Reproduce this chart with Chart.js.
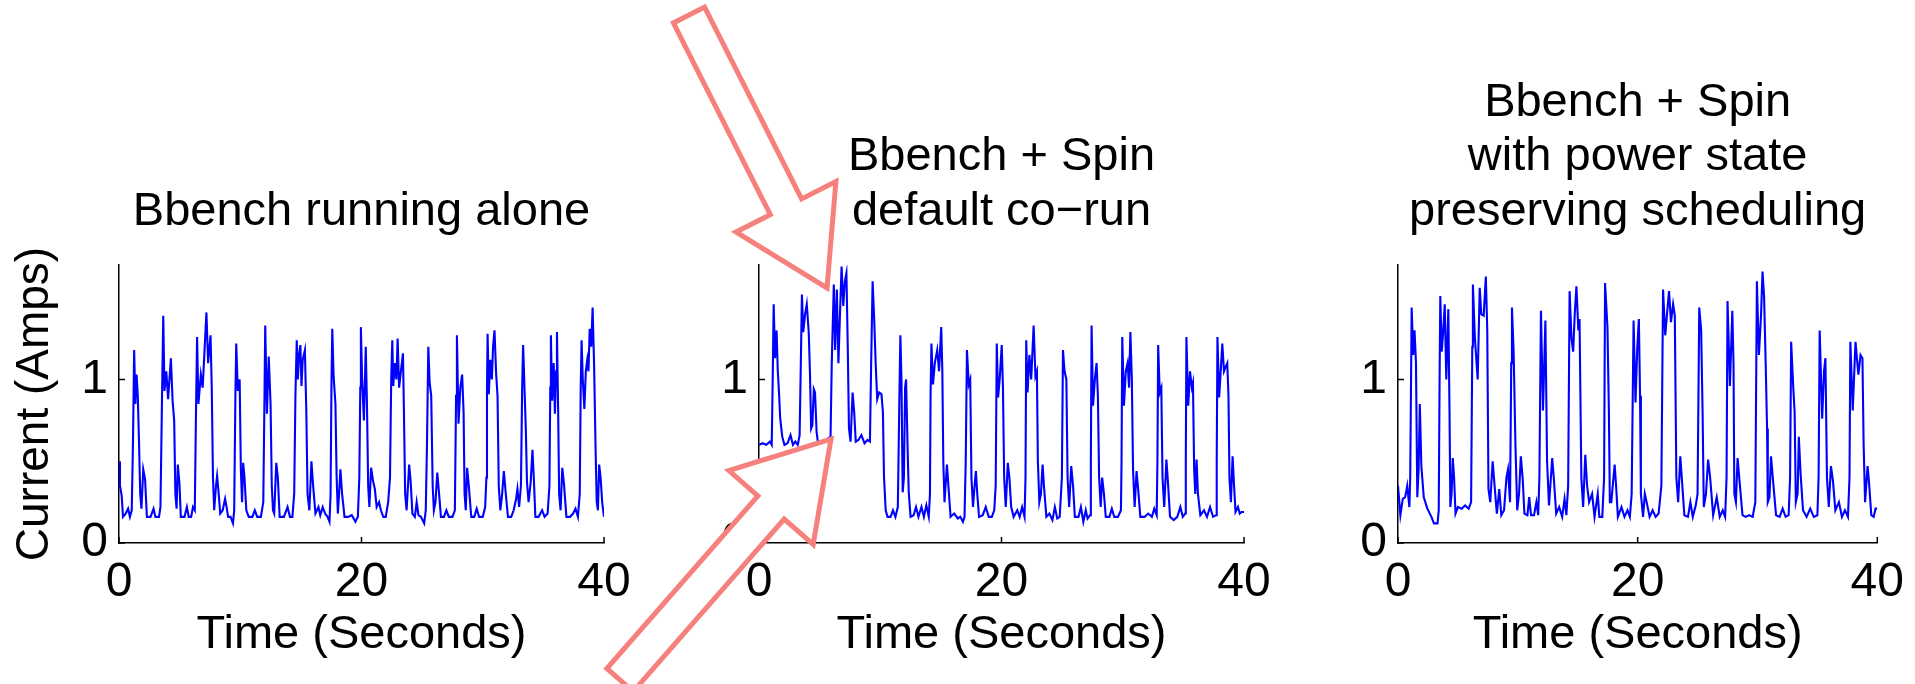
<!DOCTYPE html>
<html>
<head>
<meta charset="utf-8">
<title>Bbench current traces</title>
<script src="https://cdn.jsdelivr.net/npm/chart.js@4/dist/chart.umd.min.js"></script>
<style>
    body { margin: 0; background: #fff; width: 1915px; height: 684px; overflow: hidden; position: relative; }
    canvas { position: absolute; top: 0; }
    #arrows { position: absolute; left: 0; top: 0; }
</style>
</head>
<body>
<canvas id="canvas-1" width="660" height="684" style="left:0"></canvas>
<canvas id="canvas-2" width="660" height="684" style="left:640px"></canvas>
<canvas id="canvas-3" width="636" height="684" style="left:1279px"></canvas>
<svg id="arrows" width="1915" height="684"></svg>

<script>
// tick labels
var xTicks = [0, 20, 40];
var yTicks = [0, 1];

// Bbench running alone
var aloneTime = [0.00, 0.08, 0.22, 0.33, 0.55, 0.75, 0.90, 1.05,
    1.15, 1.25, 1.35, 1.45, 1.55, 1.65, 1.75, 1.85, 2.00, 2.15, 2.30, 2.60, 2.85, 3.00, 3.30, 3.42,
    3.55, 3.65, 3.75, 3.90, 4.05, 4.28, 4.42, 4.55, 4.65, 4.75, 4.85, 4.98, 5.10, 5.40, 5.60, 5.75, 5.95, 6.10, 6.25,
    6.35, 6.44, 6.55, 6.75, 6.90, 7.05, 7.21, 7.35, 7.55, 7.65, 7.75, 7.85, 8.00, 8.09, 8.20, 8.35, 8.55, 8.75, 8.85, 9.00, 9.20, 9.40, 9.50,
    9.60, 9.67, 9.80, 9.95, 10.05, 10.15, 10.24, 10.35, 10.50, 10.70, 11.00, 11.20, 11.40, 11.70, 11.90,
    12.00, 12.06, 12.20, 12.35, 12.50, 12.60, 12.70, 12.80, 12.97, 13.10, 13.25, 13.60, 13.90, 14.10, 14.30, 14.45,
    14.55, 14.66, 14.75, 14.85, 14.96, 15.05, 15.15, 15.33, 15.45, 15.55, 15.70, 15.87, 16.00, 16.20, 16.45, 16.60, 16.80, 17.00, 17.20, 17.36, 17.45,
    17.52, 17.59, 17.70, 17.85, 17.95, 18.05, 18.15, 18.26, 18.40, 18.60, 18.90, 19.20, 19.50, 19.70, 19.82,
    19.90, 19.95, 20.05, 20.20, 20.35, 20.45, 20.55, 20.65, 20.79, 20.95, 21.10, 21.25, 21.45, 21.60, 21.80, 22.00, 22.20, 22.35,
    22.45, 22.54, 22.62, 22.75, 22.88, 22.98, 23.10, 23.25, 23.42, 23.50, 23.60, 23.72, 23.93, 24.05, 24.20, 24.40, 24.55, 24.70, 24.90, 25.17, 25.30, 25.40,
    25.51, 25.62, 25.75, 25.87, 25.97, 26.10, 26.25, 26.40, 26.55, 26.80, 27.00, 27.20, 27.50, 27.70,
    27.80, 27.87, 28.00, 28.15, 28.30, 28.42, 28.50, 28.60, 28.71, 28.85, 29.05, 29.30, 29.50, 29.70, 30.00, 30.20, 30.30,
    30.35, 30.40, 30.50, 30.62, 30.75, 30.85, 30.97, 31.10, 31.22, 31.32, 31.45, 31.60, 31.74, 31.90, 32.08, 32.35, 32.55, 32.75, 32.86, 33.00, 33.15,
    33.25, 33.33, 33.45, 33.55, 33.65, 33.78, 33.95, 34.10, 34.22, 34.34, 34.60, 34.90, 35.10, 35.35, 35.50,
    35.57, 35.62, 35.72, 35.85, 35.95, 36.05, 36.12, 36.22, 36.30, 36.42, 36.56, 36.70, 36.90, 37.20, 37.45, 37.65, 37.85, 38.00,
    38.08, 38.15, 38.25, 38.38, 38.50, 38.62, 38.72, 38.82, 38.95, 39.06, 39.18, 39.30, 39.40, 39.50, 39.60, 39.72, 39.85, 40.00];
var aloneAmps = [0.50, 0.35, 0.29, 0.16, 0.18, 0.21, 0.16, 0.20,
    0.60, 1.18, 0.85, 1.03, 0.90, 0.62, 0.30, 0.21, 0.45, 0.39, 0.16, 0.16, 0.21, 0.16, 0.16, 0.22,
    0.90, 1.39, 0.93, 1.05, 0.88, 1.13, 0.87, 0.75, 0.30, 0.21, 0.48, 0.37, 0.16, 0.16, 0.22, 0.16, 0.16, 0.22, 0.20,
    0.80, 1.26, 0.85, 1.03, 0.95, 1.17, 1.41, 1.10, 1.27, 0.95, 0.40, 0.20, 0.35, 0.41, 0.32, 0.18, 0.20, 0.27, 0.23, 0.16, 0.16, 0.12, 0.20,
    0.90, 1.22, 0.93, 1.00, 0.45, 0.25, 0.49, 0.40, 0.20, 0.16, 0.16, 0.20, 0.16, 0.16, 0.25,
    0.90, 1.33, 0.79, 1.14, 0.85, 0.35, 0.20, 0.18, 0.49, 0.40, 0.16, 0.16, 0.22, 0.16, 0.16, 0.30,
    0.90, 1.24, 1.00, 1.15, 1.21, 0.96, 1.12, 1.18, 0.80, 0.30, 0.20, 0.50, 0.36, 0.18, 0.22, 0.17, 0.22, 0.18, 0.16, 0.13, 0.30,
    0.95, 1.31, 1.02, 0.85, 0.40, 0.18, 0.30, 0.45, 0.30, 0.16, 0.16, 0.17, 0.13, 0.16, 0.40,
    0.95, 1.32, 1.00, 0.75, 1.20, 0.85, 0.35, 0.22, 0.46, 0.38, 0.33, 0.22, 0.25, 0.20, 0.16, 0.16, 0.25, 0.40,
    1.00, 1.24, 0.96, 1.10, 1.00, 1.25, 0.95, 1.05, 1.16, 0.80, 0.30, 0.20, 0.48, 0.38, 0.18, 0.16, 0.25, 0.17, 0.16, 0.12, 0.20, 0.60,
    1.20, 0.98, 0.90, 0.35, 0.20, 0.25, 0.43, 0.30, 0.16, 0.16, 0.20, 0.16, 0.16, 0.20,
    0.90, 1.27, 0.73, 0.95, 1.03, 0.80, 0.30, 0.20, 0.46, 0.35, 0.16, 0.16, 0.21, 0.16, 0.16, 0.22, 0.40,
    0.95, 1.28, 0.91, 1.12, 1.00, 1.20, 1.30, 1.04, 0.90, 0.35, 0.20, 0.30, 0.44, 0.30, 0.16, 0.16, 0.20, 0.27, 0.33, 0.22, 0.35,
    0.95, 1.21, 0.93, 0.70, 0.37, 0.25, 0.37, 0.57, 0.38, 0.16, 0.16, 0.20, 0.16, 0.18, 0.35,
    0.95, 1.27, 0.87, 1.10, 0.79, 1.05, 1.29, 0.80, 0.30, 0.20, 0.46, 0.36, 0.16, 0.16, 0.18, 0.21, 0.16, 0.30,
    0.95, 1.24, 1.00, 0.82, 1.05, 1.12, 1.05, 1.31, 1.20, 1.44, 1.10, 0.60, 0.25, 0.20, 0.48, 0.40, 0.25, 0.16];

// Bbench + Spin, default co-run
var corunTime = [0.00, 0.30, 0.60, 0.90, 1.05,
    1.13, 1.21, 1.32, 1.45, 1.55, 1.65, 1.75, 1.92, 2.10, 2.35, 2.60, 2.80, 3.00, 3.20, 3.35,
    3.45, 3.54, 3.65, 3.80, 3.94, 4.10, 4.20, 4.30, 4.40, 4.52, 4.62, 4.75, 4.85, 5.10, 5.40, 5.70, 5.90,
    6.00, 6.17, 6.28, 6.42, 6.55, 6.68, 6.81, 6.95, 7.08, 7.21, 7.32, 7.42, 7.55, 7.72, 7.85, 7.98, 8.20, 8.45, 8.70, 8.95, 9.15,
    9.25, 9.37, 9.50, 9.62, 9.75, 9.91, 10.10, 10.22, 10.31, 10.45, 10.60, 10.85, 11.05, 11.25, 11.45,
    11.58, 11.66, 11.75, 11.85, 11.95, 12.05, 12.13, 12.25, 12.35, 12.50, 12.75, 12.95, 13.15, 13.40, 13.60, 13.80, 14.00, 14.10,
    14.15, 14.22, 14.35, 14.50, 14.70, 14.85, 15.03, 15.12, 15.20, 15.30, 15.50, 15.62, 15.80, 16.10, 16.40, 16.60, 16.82, 16.95, 17.05,
    17.15, 17.30, 17.42, 17.52, 17.65, 17.78, 17.89, 18.00, 18.15, 18.45, 18.70, 18.95, 19.20, 19.40, 19.52,
    19.61, 19.72, 19.85, 20.02, 20.12, 20.22, 20.35, 20.52, 20.65, 20.80, 21.00, 21.30, 21.50, 21.70, 21.90, 21.98,
    22.04, 22.15, 22.30, 22.45, 22.65, 22.80, 22.92, 23.00, 23.12, 23.25, 23.39, 23.50, 23.70, 23.95, 24.20, 24.40, 24.60, 24.80, 24.98,
    25.07, 25.20, 25.35, 25.45, 25.58, 25.75, 25.90, 26.05, 26.35, 26.55, 26.75, 26.95, 27.10, 27.30, 27.37,
    27.43, 27.55, 27.70, 27.84, 27.95, 28.05, 28.18, 28.30, 28.45, 28.60, 28.90, 29.10, 29.30, 29.60, 29.85, 29.90,
    29.96, 30.10, 30.25, 30.40, 30.52, 30.63, 30.75, 30.85, 30.98, 31.14, 31.28, 31.45, 31.80, 32.10, 32.40, 32.60, 32.80, 32.86,
    32.92, 33.05, 33.18, 33.28, 33.42, 33.60, 33.72, 33.90, 34.20, 34.50, 34.75, 34.95, 35.15, 35.20,
    35.25, 35.40, 35.55, 35.70, 35.79, 35.89, 35.98, 36.09, 36.20, 36.40, 36.70, 36.95, 37.20, 37.45, 37.70, 37.75,
    37.81, 37.95, 38.08, 38.21, 38.35, 38.50, 38.62, 38.72, 38.80, 38.92, 39.06, 39.18, 39.30, 39.50, 39.65, 39.80, 40.00];
var corunAmps = [0.60, 0.61, 0.60, 0.62, 0.60,
    1.00, 1.46, 1.13, 1.30, 1.05, 0.92, 0.76, 0.65, 0.60, 0.61, 0.66, 0.60, 0.62, 0.60, 0.66,
    1.10, 1.52, 1.29, 1.40, 1.46, 1.29, 1.05, 0.70, 0.72, 0.94, 0.92, 0.68, 0.62, 0.60, 0.61, 0.64, 0.65,
    1.10, 1.58, 1.18, 1.55, 1.10, 1.40, 1.69, 1.45, 1.60, 1.65, 1.20, 0.70, 0.62, 0.92, 0.80, 0.62, 0.63, 0.66, 0.61, 0.63, 0.62,
    1.10, 1.60, 1.37, 1.10, 0.88, 0.92, 0.91, 0.80, 0.40, 0.20, 0.16, 0.16, 0.20, 0.16, 0.22,
    0.90, 1.27, 1.00, 0.31, 0.40, 0.95, 1.00, 0.60, 0.31, 0.16, 0.17, 0.22, 0.16, 0.22, 0.16, 0.23, 0.16, 0.30,
    0.90, 1.22, 0.97, 1.10, 1.18, 1.05, 1.32, 1.05, 0.50, 0.25, 0.48, 0.35, 0.16, 0.18, 0.15, 0.16, 0.13, 0.16, 0.50,
    1.18, 0.97, 1.00, 0.40, 0.22, 0.35, 0.44, 0.30, 0.16, 0.17, 0.22, 0.16, 0.16, 0.20, 0.35,
    1.22, 0.89, 1.00, 1.21, 0.95, 0.40, 0.22, 0.49, 0.40, 0.22, 0.16, 0.20, 0.16, 0.22, 0.16, 0.40,
    1.24, 0.92, 1.15, 1.00, 1.33, 1.02, 1.05, 0.50, 0.25, 0.30, 0.48, 0.35, 0.16, 0.18, 0.14, 0.22, 0.15, 0.16, 0.40,
    1.18, 1.05, 1.00, 0.40, 0.22, 0.47, 0.35, 0.16, 0.16, 0.22, 0.13, 0.20, 0.15, 0.17, 0.50,
    1.33, 0.84, 1.00, 1.10, 0.90, 0.40, 0.22, 0.40, 0.30, 0.16, 0.16, 0.21, 0.16, 0.16, 0.20, 0.50,
    1.26, 0.84, 1.05, 1.10, 0.95, 1.29, 1.00, 0.45, 0.22, 0.44, 0.32, 0.16, 0.16, 0.18, 0.16, 0.21, 0.17, 0.50,
    1.21, 0.92, 0.95, 0.40, 0.22, 0.51, 0.38, 0.16, 0.14, 0.16, 0.22, 0.16, 0.18, 0.50,
    1.26, 0.84, 1.05, 0.95, 0.98, 0.45, 0.30, 0.51, 0.30, 0.17, 0.20, 0.16, 0.22, 0.16, 0.17, 0.50,
    1.26, 0.89, 1.05, 1.22, 1.05, 1.08, 1.10, 0.90, 0.40, 0.25, 0.53, 0.35, 0.19, 0.22, 0.18, 0.19, 0.19];

// Bbench + Spin with power state preserving scheduling
var preserveTime = [0.00, 0.20, 0.40, 0.60, 0.77, 0.95, 1.02,
    1.14, 1.27, 1.38, 1.50, 1.61, 1.72, 1.82, 1.95, 2.15, 2.45, 2.79, 3.00, 3.30, 3.40,
    3.47, 3.53, 3.65, 3.78, 3.90, 4.03, 4.20, 4.30, 4.37, 4.47, 4.57, 4.68, 4.80, 5.00, 5.30, 5.60, 5.90, 6.10,
    6.20, 6.25, 6.42, 6.65, 6.82, 6.95, 7.15, 7.33, 7.45, 7.55, 7.70, 7.90, 8.05, 8.25, 8.45, 8.62, 8.85, 9.05, 9.18, 9.35,
    9.45, 9.51, 9.65, 9.80, 9.95, 10.10, 10.25, 10.40, 10.55, 10.80, 10.95, 11.10, 11.35, 11.55, 11.70, 11.80,
    11.93, 12.10, 12.30, 12.44, 12.60, 12.87, 13.00, 13.20, 13.45, 13.70, 13.90, 14.05, 14.20,
    14.32, 14.48, 14.62, 14.75, 14.89, 15.05, 15.15, 15.30, 15.45, 15.63, 15.78, 15.95, 16.20, 16.40, 16.67, 16.80, 17.05, 17.20,
    17.28, 17.48, 17.60, 17.68, 17.80, 18.08, 18.20, 18.35, 18.65, 18.90, 19.15, 19.35, 19.50,
    19.66, 19.82, 19.97, 20.10, 20.20, 20.27, 20.45, 20.60, 20.75, 21.00, 21.25, 21.50, 21.75, 21.98,
    22.12, 22.30, 22.45, 22.62, 22.78, 22.96, 23.10, 23.23, 23.38, 23.56, 23.70, 23.90, 24.20, 24.40, 24.60, 24.85, 25.00,
    25.14, 25.30, 25.42, 25.52, 25.70, 25.88, 26.05, 26.30, 26.60, 26.85, 27.10, 27.30, 27.42,
    27.50, 27.70, 27.90, 28.00, 28.07, 28.20, 28.34, 28.50, 28.75, 29.00, 29.30, 29.60, 29.82,
    29.95, 30.12, 30.30, 30.42, 30.55, 30.69, 30.80, 30.86, 31.00, 31.13, 31.30, 31.55, 31.85, 32.10, 32.35, 32.60, 32.72,
    32.81, 32.98, 33.10, 33.20, 33.35, 33.45, 33.60, 33.80, 34.10, 34.40, 34.70, 35.00, 35.10,
    35.19, 35.40, 35.55, 35.67, 35.80, 35.95, 36.13, 36.30, 36.50, 36.80, 37.05, 37.30, 37.55, 37.68,
    37.75, 37.95, 38.18, 38.42, 38.60, 38.76, 38.86, 38.98, 39.19, 39.30, 39.50, 39.70, 39.85, 40.00];
var preserveAmps = [0.35, 0.17, 0.27, 0.28, 0.35, 0.22, 0.40,
    1.44, 1.15, 1.30, 1.10, 0.28, 0.45, 0.85, 0.47, 0.28, 0.21, 0.16, 0.12, 0.12, 0.20,
    1.00, 1.51, 1.17, 1.30, 1.46, 1.00, 1.43, 0.80, 0.22, 0.30, 0.52, 0.40, 0.18, 0.22, 0.21, 0.23, 0.21, 0.25,
    1.20, 1.58, 1.25, 1.00, 1.56, 1.40, 1.39, 1.63, 1.30, 0.33, 0.25, 0.50, 0.36, 0.18, 0.33, 0.17, 0.20, 0.40, 0.45, 0.25,
    1.10, 1.44, 1.17, 0.60, 0.20, 0.30, 0.53, 0.40, 0.18, 0.17, 0.28, 0.17, 0.17, 0.25, 0.17, 0.40,
    1.42, 0.81, 1.36, 0.50, 0.23, 0.52, 0.40, 0.18, 0.22, 0.16, 0.27, 0.17, 0.35,
    1.54, 1.25, 1.17, 1.40, 1.57, 1.30, 1.37, 0.40, 0.22, 0.54, 0.35, 0.25, 0.30, 0.16, 0.30, 0.16, 0.16, 0.40,
    1.59, 1.32, 0.80, 0.25, 0.25, 0.48, 0.35, 0.16, 0.22, 0.16, 0.20, 0.16, 0.30,
    1.36, 0.86, 1.20, 1.37, 0.90, 0.30, 0.16, 0.30, 0.25, 0.16, 0.20, 0.16, 0.18, 0.35,
    1.55, 1.27, 1.40, 1.54, 1.35, 1.46, 1.39, 0.40, 0.25, 0.53, 0.38, 0.17, 0.16, 0.25, 0.16, 0.23, 0.30,
    1.44, 1.30, 0.80, 0.22, 0.30, 0.51, 0.40, 0.17, 0.28, 0.16, 0.20, 0.16, 0.40,
    1.48, 0.96, 1.42, 1.10, 0.30, 0.25, 0.52, 0.38, 0.17, 0.16, 0.17, 0.16, 0.25,
    1.60, 1.15, 1.40, 1.66, 1.51, 1.08, 0.70, 0.25, 0.28, 0.53, 0.38, 0.17, 0.16, 0.21, 0.16, 0.17, 0.40,
    1.23, 0.96, 0.80, 0.25, 0.30, 0.65, 0.42, 0.20, 0.16, 0.21, 0.16, 0.17, 0.40,
    1.30, 0.76, 1.05, 1.13, 0.40, 0.22, 0.47, 0.38, 0.20, 0.25, 0.16, 0.20, 0.16, 0.40,
    1.23, 0.81, 1.23, 1.03, 1.15, 1.13, 0.60, 0.25, 0.47, 0.38, 0.17, 0.16, 0.21, 0.21];

Chart.defaults.font.family = '"Liberation Sans", Arial, Helvetica, sans-serif';
Chart.defaults.color = '#000';
Chart.defaults.animation = false;

// small MATLAB-style ticks pointing into the plot
var innerTicks = {
    id: 'innerTicks',
    afterDatasetsDraw: function (chart) {
        var ctx = chart.ctx;
        var area = chart.chartArea;
        var xs = chart.scales.x;
        var ys = chart.scales.y;
        ctx.save();
        ctx.strokeStyle = '#000';
        ctx.lineWidth = 1.5;
        ctx.beginPath();
        xs.ticks.forEach(function (t) {
            var px = xs.getPixelForValue(t.value);
            ctx.moveTo(px, area.bottom);
            ctx.lineTo(px, area.bottom - 6);
        });
        ys.ticks.forEach(function (t) {
            var py = ys.getPixelForValue(t.value);
            ctx.moveTo(area.left, py);
            ctx.lineTo(area.left + 6, py);
        });
        ctx.stroke();
        ctx.restore();
    }
};

function makePanel(id, titleLines, times, amps, showYTitle, rightPad) {
    var lineH = 47 * 1.16;
    var padTop = 212 - lineH / 2 - (titleLines.length - 1) * lineH;
    return new Chart(document.getElementById(id), {
        type: 'line',
        data: {
            datasets: [{
                data: times.map(function (t, i) { return { x: t, y: amps[i] }; }),
                borderColor: '#0000ff',
                borderWidth: 2.1,
                pointRadius: 0,
                tension: 0,
                fill: false
            }]
        },
        options: {
            responsive: false,
            layout: { padding: { left: 0, right: rightPad, top: 0, bottom: 0 } },
            plugins: {
                legend: { display: false },
                tooltip: { enabled: false },
                title: {
                    display: true,
                    fullSize: false,
                    text: titleLines,
                    color: '#000',
                    font: { size: 47, weight: 'normal', lineHeight: 1.16 },
                    padding: { top: padTop, bottom: 265 - padTop - titleLines.length * lineH }
                }
            },
            scales: {
                x: {
                    type: 'linear',
                    min: 0,
                    max: 40,
                    grid: { display: false, drawTicks: false },
                    border: { display: true, color: '#000', width: 1.5 },
                    ticks: { font: { size: 48, lineHeight: 1.2 }, color: '#000', padding: 11, maxRotation: 0 },
                    afterBuildTicks: function (s) { s.ticks = xTicks.map(function (v) { return { value: v }; }); },
                    afterFit: function (s) { s.height = 141; },
                    title: { display: true, text: 'Time (Seconds)', color: '#000', font: { size: 47, lineHeight: 1.2 }, padding: { top: 0, bottom: 21 } }
                },
                y: {
                    type: 'linear',
                    min: 0,
                    max: 1.7,
                    grid: { display: false, drawTicks: false },
                    border: { display: true, color: '#000', width: 1.5 },
                    ticks: { font: { size: 48, lineHeight: 1.2 }, color: '#000', padding: 11 },
                    afterBuildTicks: function (s) { s.ticks = yTicks.map(function (v) { return { value: v }; }); },
                    afterFit: function (s) { s.width = 119; },
                    title: { display: showYTitle, text: 'Current (Amps)', color: '#000', font: { size: 46, lineHeight: 1.2 }, padding: { top: 8, bottom: 0 } }
                }
            }
        },
        plugins: [innerTicks]
    });
}

var aloneChart = makePanel('canvas-1', ['Bbench running alone'], aloneTime, aloneAmps, true, 56);
var corunChart = makePanel('canvas-2', ['Bbench + Spin', 'default co\u2212run'], corunTime, corunAmps, false, 56);
var preserveChart = makePanel('canvas-3', ['Bbench + Spin', 'with power state', 'preserving scheduling'], preserveTime, preserveAmps, false, 32);

// the two outlined pointer arrows over the middle panel
function arrowPath(tail, tip, shaft, head, headLen) {
    var dx = tip[0] - tail[0], dy = tip[1] - tail[1];
    var len = Math.sqrt(dx * dx + dy * dy);
    var ux = dx / len, uy = dy / len, nx = -uy, ny = ux;
    var bx = tip[0] - ux * headLen, by = tip[1] - uy * headLen;
    var pts = [
        [tail[0] + nx * shaft, tail[1] + ny * shaft],
        [bx + nx * shaft, by + ny * shaft],
        [bx + nx * head, by + ny * head],
        tip,
        [bx - nx * head, by - ny * head],
        [bx - nx * shaft, by - ny * shaft],
        [tail[0] - nx * shaft, tail[1] - ny * shaft]
    ];
    return pts.map(function (p) { return p[0].toFixed(1) + ',' + p[1].toFixed(1); }).join(' ');
}

var svg = document.getElementById('arrows');
[[[689, 15], [827, 288]], [[620, 680], [831, 439]]].forEach(function (a) {
    var poly = document.createElementNS('http://www.w3.org/2000/svg', 'polygon');
    poly.setAttribute('points', arrowPath(a[0], a[1], 17.5, 56, 91));
    poly.setAttribute('fill', '#fff');
    poly.setAttribute('stroke', '#f6807b');
    poly.setAttribute('stroke-width', '5');
    poly.setAttribute('stroke-linejoin', 'miter');
    svg.appendChild(poly);
});
</script>
</body>
</html>
